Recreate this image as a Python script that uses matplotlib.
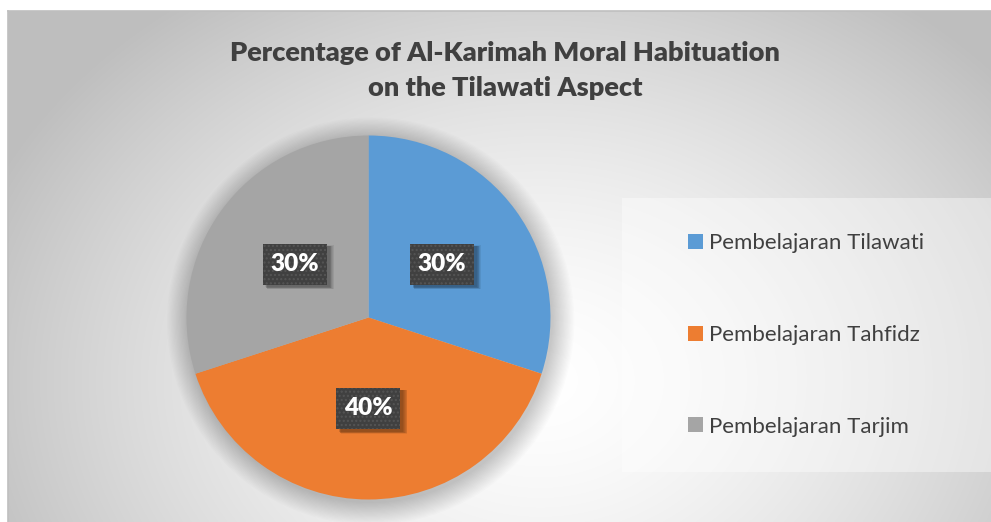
import numpy as np
import matplotlib
matplotlib.use("Agg")
import matplotlib.pyplot as plt
from matplotlib.patches import Rectangle, Circle

# ---- data ----
categories = ["Pembelajaran Tilawati", "Pembelajaran Tahfidz", "Pembelajaran Tarjim"]
values = [30, 40, 30]
colors = ["#5B9BD5", "#ED7D31", "#A5A5A5"]
title_lines = ["Percentage of Al-Karimah Moral Habituation", "on the Tilawati Aspect"]

W, H = 991, 522
fig = plt.figure(figsize=(W / 100, H / 100), dpi=100)
fig.patch.set_facecolor("white")

# ---- background gradient (chart area) ----
x0, y0 = 8, 11  # top-left of chart area in pixels
bw, bh = W - x0, H - y0
bg = fig.add_axes([x0 / W, 0, bw / W, bh / H])
yy, xx = np.mgrid[0:bh, 0:bw]
cx, cy = 540 - x0, 380 - y0
d = np.sqrt(((xx - cx) / 560.0) ** 2 + ((yy - cy) / 440.0) ** 2)
v = 255 - 58 * np.clip(d, 0, 1.3) ** 1.5
v = np.clip(v, 190, 255) / 255.0
bg.imshow(np.dstack([v, v, v]), aspect="auto", extent=[0, bw, bh, 0], interpolation="bilinear")
bg.set_xlim(0, bw)
bg.set_ylim(bh, 0)
bg.axis("off")
# border (top & left)
fig.add_artist(plt.Line2D([x0 / W, 1], [1 - y0 / H, 1 - y0 / H], color="#bfbfbf", lw=1.2))
fig.add_artist(plt.Line2D([x0 / W, x0 / W], [0, 1 - y0 / H], color="#bfbfbf", lw=1.2))

# ---- legend background ----
lx0, ly0, lx1, ly1 = 622, 198, 991, 472
fig.add_artist(Rectangle((lx0 / W, 1 - ly1 / H), (lx1 - lx0) / W, (ly1 - ly0) / H,
                         transform=fig.transFigure, facecolor="white", alpha=0.4,
                         edgecolor="none", zorder=1))

# ---- pie ----
pcx, pcy, R = 368.5, 317.5, 182
M = 1.2  # axes margin factor so the shadow is not clipped
ax = fig.add_axes([(pcx - M * R) / W, (H - pcy - M * R) / H, 2 * M * R / W, 2 * M * R / H])
ax.set_facecolor("none")
# soft shadow
for i in range(18):
    ax.add_patch(Circle((0.012, -0.02), 1.0 + i * 0.007, facecolor="black",
                        alpha=0.010, edgecolor="none", zorder=0))
wedges, texts, autotexts = ax.pie(
    values, colors=colors, startangle=90, counterclock=False,
    autopct=lambda p: f"{p:.0f}%", pctdistance=0.5, radius=1.0,
    wedgeprops=dict(linewidth=0),
    textprops=dict(color="white", fontsize=17.5, fontweight="heavy", family="Lato"))
for w in wedges:
    w.set_zorder(2)
bwid, bhei = 64 / R, 41 / R
for t in autotexts:
    x, y = t.get_position()
    t.set_zorder(6)
    t.set_va("center")
    t.set_ha("center")
    for k in range(6):
        off = 0.006 * (k + 1)
        ax.add_patch(Rectangle((x - bwid / 2 + 0.012 + off * 0.3, y - bhei / 2 - 0.014 - off * 0.3),
                               bwid + off * 0.4, bhei + off * 0.4, facecolor="black",
                               alpha=0.07, edgecolor="none", zorder=4))
    ax.add_patch(Rectangle((x - bwid / 2, y - bhei / 2), bwid, bhei,
                           facecolor="#404040", edgecolor="#555555", linewidth=0,
                           hatch="....", zorder=5))
ax.set_xlim(-M, M)
ax.set_ylim(-M, M)
ax.set_aspect("auto")
ax.axis("off")

# ---- title ----
fig.text(505 / W, 1 - 61 / H, title_lines[0], ha="center", va="baseline", fontsize=19.5,
         fontweight="heavy", color="#404040", family="Lato")
fig.text(505 / W, 1 - 96 / H, title_lines[1], ha="center", va="baseline", fontsize=19.5,
         fontweight="heavy", color="#404040", family="Lato")

# ---- legend ----
leg = fig.legend(wedges, categories, loc="center left",
                 bbox_to_anchor=(677 / W, 1 - 335 / H), frameon=False,
                 labelcolor="#404040", handlelength=0.65,
                 handleheight=0.65, handletextpad=0.3, labelspacing=3.22,
                 borderpad=0, prop=dict(family="Lato", size=16))
for t in leg.get_texts():
    t.set_color("#404040")

fig.savefig("out.png", dpi=100)
